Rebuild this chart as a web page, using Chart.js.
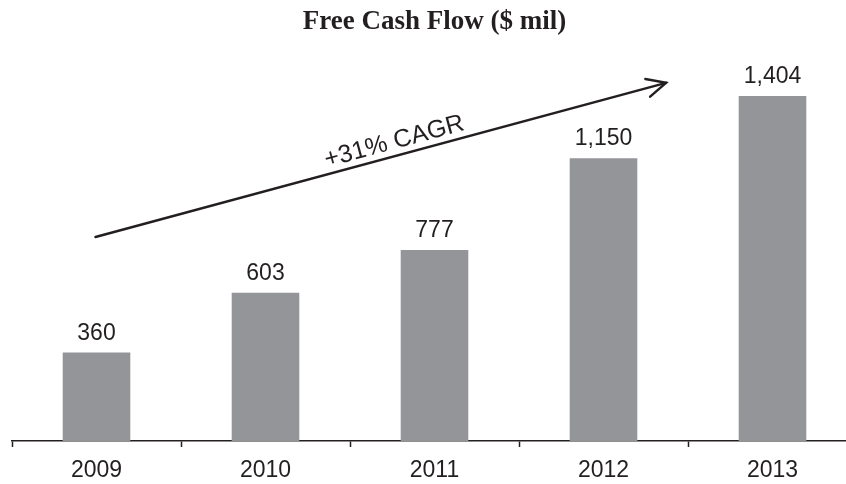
<!DOCTYPE html>
<html>
<head>
<meta charset="utf-8">
<script src="https://cdn.jsdelivr.net/npm/chart.js@4"></script>
<style>
  html, body { margin: 0; padding: 0; background: #fff; overflow: hidden; }
  #wrap { width: 846px; height: 484px; overflow: hidden; }
  #box { width: 860px; height: 484px; }
</style>
</head>
<body>
<div id="wrap"><div id="box"><canvas id="fcf"></canvas></div></div>
<script>
// data
var years = ["2009", "2010", "2011", "2012", "2013"];
var fcfValues = [360, 603, 777, 1150, 1404];
var cagrLabel = "+31% CAGR";
// arrow ends, in (category index, value) units
var arrowFrom = [0, 830];
var arrowTo = [3.37, 1457];

var ink = "#231f20";

// value labels on top of bars
var barLabels = {
  id: "barLabels",
  afterDatasetsDraw: function (chart) {
    var ctx = chart.ctx;
    var meta = chart.getDatasetMeta(0);
    ctx.save();
    ctx.fillStyle = ink;
    ctx.font = "23px 'Liberation Sans', Arial, sans-serif";
    ctx.textAlign = "center";
    ctx.textBaseline = "alphabetic";
    meta.data.forEach(function (bar, i) {
      ctx.fillText(fcfValues[i].toLocaleString("en-US"), bar.x, bar.y - 13);
    });
    ctx.restore();
  }
};

// CAGR arrow
var cagrArrow = {
  id: "cagrArrow",
  afterDatasetsDraw: function (chart) {
    var xs = chart.scales.x, ys = chart.scales.y;
    var step = xs.getPixelForValue(1) - xs.getPixelForValue(0);
    var x0 = xs.getPixelForValue(0) + (arrowFrom[0]) * step - 1;
    var x1 = xs.getPixelForValue(0) + (arrowTo[0]) * step;
    var y0 = ys.getPixelForValue(arrowFrom[1]);
    var y1 = ys.getPixelForValue(arrowTo[1]);
    var ang = Math.atan2(y1 - y0, x1 - x0);
    var ctx = chart.ctx;
    ctx.save();
    ctx.strokeStyle = ink;
    ctx.lineWidth = 2.5;
    ctx.lineCap = "round";
    ctx.lineJoin = "miter";
    ctx.beginPath();
    ctx.moveTo(x0, y0);
    ctx.lineTo(x1, y1);
    ctx.stroke();
    var len = 21, spread = 0.45;
    ctx.beginPath();
    ctx.moveTo(x1 - len * Math.cos(ang - spread), y1 - len * Math.sin(ang - spread));
    ctx.lineTo(x1, y1);
    ctx.lineTo(x1 - len * Math.cos(ang + spread), y1 - len * Math.sin(ang + spread));
    ctx.stroke();
    // label along arrow
    var t = 0.53;
    var mx = x0 + (x1 - x0) * t, my = y0 + (y1 - y0) * t;
    ctx.translate(mx, my);
    ctx.rotate(ang);
    ctx.fillStyle = ink;
    ctx.font = "25px 'Liberation Sans', Arial, sans-serif";
    ctx.textAlign = "center";
    ctx.textBaseline = "alphabetic";
    ctx.fillText(cagrLabel, 0, -7);
    ctx.restore();
  }
};

new Chart(document.getElementById("fcf"), {
  type: "bar",
  data: {
    labels: years,
    datasets: [{
      data: fcfValues,
      backgroundColor: "#939598",
      borderWidth: 0,
      barPercentage: 0.4,
      categoryPercentage: 1
    }]
  },
  options: {
    responsive: true,
    maintainAspectRatio: false,
    animation: false,
    events: [],
    layout: { padding: { left: 12, right: 3, top: 0, bottom: 0 } },
    plugins: {
      legend: { display: false },
      tooltip: { enabled: false },
      title: {
        display: true,
        text: "Free Cash Flow ($ mil)",
        fullSize: false,
        color: ink,
        font: { family: "'Liberation Serif', 'Times New Roman', serif", size: 27, weight: "bold", lineHeight: 1.2 },
        padding: { top: 6, bottom: 21.6 }
      }
    },
    scales: {
      x: {
        afterFit: function (scale) { scale.height = 43; },
        grid: {
          offset: true,
          drawOnChartArea: false,
          tickLength: 6,
          tickColor: ink,
          tickWidth: 1.5
        },
        border: { display: true, color: ink, width: 1.5 },
        ticks: {
          color: ink,
          padding: 12,
          font: { family: "'Liberation Sans', Arial, sans-serif", size: 23, lineHeight: 1 }
        }
      },
      y: {
        display: false,
        min: 0,
        max: 1550
      }
    }
  },
  plugins: [barLabels, cagrArrow]
});
</script>
</body>
</html>
